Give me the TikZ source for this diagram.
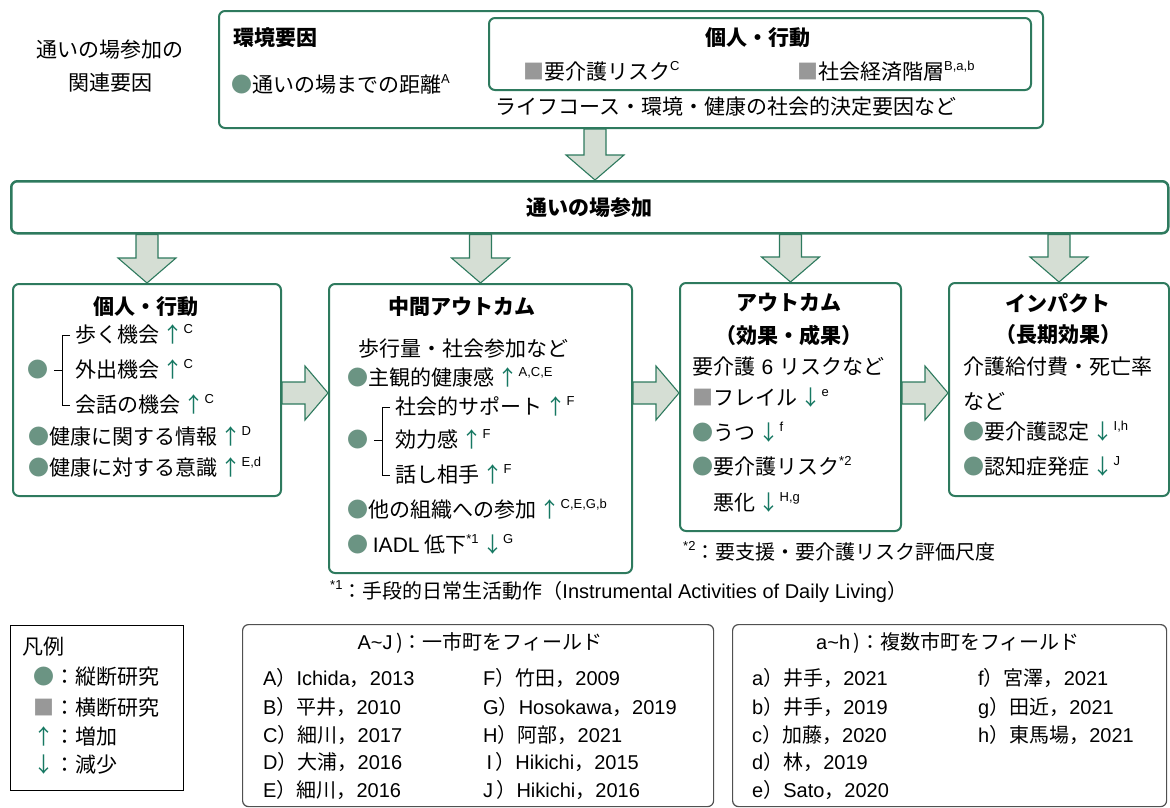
\documentclass[tikz,border=0pt]{standalone}
\usepackage{fontspec}
\setmainfont{Noto Sans CJK JP}
\newfontfamily\lt{Liberation Sans}
\usetikzlibrary{calc}
\definecolor{gline}{RGB}{46,122,94}
\definecolor{circc}{RGB}{107,148,131}
\definecolor{sqc}{RGB}{152,152,152}
\definecolor{afill}{RGB}{213,222,212}
\definecolor{arrc}{RGB}{22,120,98}
\definecolor{refgray}{RGB}{80,80,80}
\newcommand\spx[1]{\raisebox{0.45em}{\fontsize{13}{13}\selectfont\lt #1}}
\newcommand\myup{\,\textcolor{arrc}{↑}}
\newcommand\mydn{\,\textcolor{arrc}{↓}}
\newcommand\cir{\textcolor{circc}{●}}
\newcommand\sqr{\textcolor{sqc}{■}}
\newcommand\fatdown[2]{\draw[fat] let \p1=(#1), \p2=(#2) in
  (\x1-11pt,\y1) -- (\x1-11pt,\y2+25pt) -- (\x1-29pt,\y2+25pt) -- (\x1,\y2)
  -- (\x1+29pt,\y2+25pt) -- (\x1+11pt,\y2+25pt) -- (\x1+11pt,\y1) -- cycle;}
\newcommand\fatright[2]{\draw[fat] let \p1=(#1), \p2=(#2) in
  (\x1,\y1+11pt) -- (\x2-23pt,\y1+11pt) -- (\x2-23pt,\y1+27pt) -- (\x2,\y1)
  -- (\x2-23pt,\y1-27pt) -- (\x2-23pt,\y1-11pt) -- (\x1,\y1-11pt) -- cycle;}
\newcommand\rf[3]{{\lt #1}）{#2}，{\lt #3}}
\tikzset{
  gbox/.style={draw=gline, line width=2pt, rounded corners=6pt, fill=white, inner sep=0pt},
  txt/.style={inner sep=0pt, anchor=west, text height=18pt, text depth=3pt, font=\fontsize{21}{25}\selectfont},
  ttl/.style={inner sep=0pt, anchor=center, font=\fontsize{21}{25}\selectfont\bfseries},
  smalltxt/.style={inner sep=0pt, anchor=west, text height=17pt, text depth=3pt, font=\fontsize{20}{24}\selectfont},
  fat/.style={draw=gline, line width=1.1pt, fill=afill, line join=miter},
  brk/.style={draw=black, line width=1pt},
}
\begin{document}
\begin{tikzpicture}[x=1pt,y=-1pt]
\useasboundingbox (0,0) rectangle (1170,807);
% side label
\node[txt, anchor=center] (lab1) at (110,50) {通いの場参加の};
\node[txt, anchor=center] (lab2) at (110,83) {関連要因};
% top box
\node[gbox, minimum width=824, minimum height=117, anchor=north west] (top) at (218,10) {};
\node[ttl, anchor=west] (env) at (233,38) {環境要因};
\node[txt] (dist) at (231,85) {\cir 通いの場までの距離\spx{A}};
\node[gbox, minimum width=542, minimum height=72, anchor=north west] (pb) at (488,17) {};
\node[ttl] (pbt) at (758,38) {個人・行動};
\node[txt] (risk) at (523,72) {\sqr 要介護リスク\spx{C}};
\node[txt] (ses) at (797,72) {\sqr 社会経済階層\spx{B,a,b}};
\node[txt] (life) at (495,107) {ライフコース・環境・健康の社会的決定要因など};
% band
\node[gbox, line width=2.5pt, minimum width=1157, minimum height=52, anchor=north west, font=\fontsize{21}{25}\selectfont\bfseries] (band) at (10,180) {通いの場参加};
\coordinate (ta) at (595,0);
\fatdown{top.south -| ta}{band.north -| ta}
% row boxes
\node[gbox, minimum width=268, minimum height=212, anchor=north west] (b1) at (12,283) {};
\node[gbox, minimum width=303, minimum height=289, anchor=north west] (b2) at (328,283) {};
\node[gbox, minimum width=221, minimum height=248, anchor=north west] (b3) at (679,282) {};
\node[gbox, minimum width=220, minimum height=213, anchor=north west] (b4) at (948,282) {};
\fatdown{band.south -| b1.north}{b1.north}
\fatdown{band.south -| b2.north}{b2.north}
\fatdown{band.south -| b3.north}{b3.north}
\fatdown{band.south -| b4.north}{b4.north}
\coordinate (ay) at (0,393);
\fatright{b1.east |- ay}{b2.west |- ay}
\fatright{b2.east |- ay}{b3.west |- ay}
\fatright{b3.east |- ay}{b4.west |- ay}
% box 1
\node[ttl] (t1) at (146,307) {個人・行動};
\draw[brk] (70,335) -- (62,335) -- (62,405) -- (70,405) (62,370) -- (54,370);
\node[txt, anchor=center] (c1) at (38,370) {\cir};
\node[txt] (b1l1) at (75,335) {歩く機会\myup\spx{C}};
\node[txt] (b1l2) at (75,370) {外出機会\myup\spx{C}};
\node[txt] (b1l3) at (75,405) {会話の機会\myup\spx{C}};
\node[txt] (b1l4) at (28,437) {\cir 健康に関する情報\myup\spx{D}};
\node[txt] (b1l5) at (28,468) {\cir 健康に対する意識\myup\spx{E,d}};
% box 2
\node[ttl] (t2) at (462,307) {中間アウトカム};
\node[txt] (b2l0) at (358,349) {歩行量・社会参加など};
\node[txt] (b2l1) at (347,378) {\cir 主観的健康感\myup\spx{A,C,E}};
\draw[brk] (390,407) -- (382,407) -- (382,475) -- (390,475) (382,440) -- (374,440);
\node[txt, anchor=center] (c2) at (358,440) {\cir};
\node[txt] (b2l2) at (395,407) {社会的サポート\myup\spx{F}};
\node[txt] (b2l3) at (395,440) {効力感\myup\spx{F}};
\node[txt] (b2l4) at (395,475) {話し相手\myup\spx{F}};
\node[txt] (b2l5) at (347,510) {\cir 他の組織への参加\myup\spx{C,E,G,b}};
\node[txt] (b2l6) at (347,545) {\cir\ {\lt IADL} 低下\spx{*1}\mydn\spx{G}};
% box 3
\node[ttl] (t3a) at (789,303) {アウトカム};
\node[ttl] (t3b) at (789,335) {（効果・成果）};
\node[txt] (b3l0) at (692,367) {要介護\hspace{0.3em}{\lt 6}\hspace{0.3em}リスクなど};
\node[txt] (b3l1) at (692,398) {\sqr フレイル\mydn\spx{e}};
\node[txt] (b3l2) at (692,433) {\cir うつ\mydn\spx{f}};
\node[txt] (b3l3) at (692,467) {\cir 要介護リスク\spx{*2}};
\node[txt] (b3l4) at (713,503) {悪化\mydn\spx{H,g}};
\node[smalltxt] (fn2) at (683,552) {\spx{*2}：要支援・要介護リスク評価尺度};
% box 4
\node[ttl] (t4a) at (1058,303) {インパクト};
\node[ttl] (t4b) at (1058,335) {（長期効果）};
\node[txt] (b4l0) at (963,367) {介護給付費・死亡率};
\node[txt] (b4l1) at (963,402) {など};
\node[txt] (b4l2) at (963,432) {\cir 要介護認定\mydn\spx{I,h}};
\node[txt] (b4l3) at (963,467) {\cir 認知症発症\mydn\spx{J}};
% footnote 1
\node[smalltxt] (fn1) at (330,591) {\spx{*1}：手段的日常生活動作（{\lt Instrumental Activities of Daily Living}）};
% legend
\node[draw=black, line width=1.3pt, minimum width=173, minimum height=165, anchor=north west, inner sep=0pt] (leg) at (10,625) {};
\node[txt] (lg0) at (22,647) {凡例};
\node[txt] (lg1) at (33,677) {\cir：縦断研究};
\node[txt] (lg2) at (33,708) {\sqr：横断研究};
\node[txt] (lg3) at (33,737) {\textcolor{arrc}{↑}：増加};
\node[txt] (lg4) at (33,765) {\textcolor{arrc}{↓}：減少};
% reference box A-J
\node[draw=refgray, line width=1.2pt, rounded corners=6pt, minimum width=471, minimum height=182, anchor=north west, inner sep=0pt] (refA) at (242,624) {};
\node[txt, anchor=center, font=\fontsize{20}{24}\selectfont] (rAt) at (480,642) {{\lt A\textasciitilde J}\,)：一市町をフィールド};
\node[smalltxt] (rA1) at (263,678) {\rf{A}{\lt Ichida}{2013}};
\node[smalltxt] (rA2) at (263,707) {\rf{B}{平井}{2010}};
\node[smalltxt] (rA3) at (263,735) {\rf{C}{細川}{2017}};
\node[smalltxt] (rA4) at (263,762) {\rf{D}{大浦}{2016}};
\node[smalltxt] (rA5) at (263,790) {\rf{E}{細川}{2016}};
\node[smalltxt] (rA6) at (483,678) {\rf{F}{竹田}{2009}};
\node[smalltxt] (rA7) at (483,707) {\rf{G}{\lt Hosokawa}{2019}};
\node[smalltxt] (rA8) at (483,735) {\rf{H}{阿部}{2021}};
\node[smalltxt] (rA9) at (483,762) {\rf{\,I\,}{\lt Hikichi}{2015}};
\node[smalltxt] (rA10) at (483,790) {\rf{J\,}{\lt Hikichi}{2016}};
% reference box a-h
\node[draw=refgray, line width=1.2pt, rounded corners=6pt, minimum width=434, minimum height=182, anchor=north west, inner sep=0pt] (refB) at (732,624) {};
\node[txt, anchor=center, font=\fontsize{20}{24}\selectfont] (rBt) at (948,642) {{\lt a\textasciitilde h}\,)：複数市町をフィールド};
\node[smalltxt] (rB1) at (752,678) {\rf{a}{井手}{2021}};
\node[smalltxt] (rB2) at (752,707) {\rf{b}{井手}{2019}};
\node[smalltxt] (rB3) at (752,735) {\rf{c}{加藤}{2020}};
\node[smalltxt] (rB4) at (752,762) {\rf{d}{林}{2019}};
\node[smalltxt] (rB5) at (752,790) {\rf{e}{\lt Sato}{2020}};
\node[smalltxt] (rB6) at (978,678) {\rf{f}{宮澤}{2021}};
\node[smalltxt] (rB7) at (978,707) {\rf{g}{田近}{2021}};
\node[smalltxt] (rB8) at (978,735) {\rf{h}{東馬場}{2021}};
\end{tikzpicture}
\end{document}
